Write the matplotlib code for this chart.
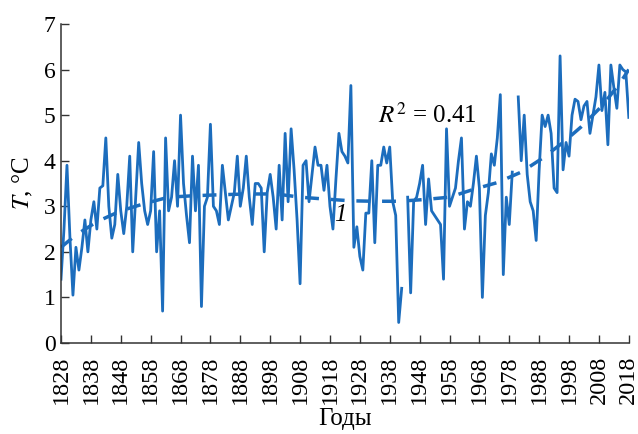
import numpy as np
import matplotlib
matplotlib.use("Agg")
from matplotlib import pyplot as plt

# annual mean temperature, 1828-2018 (NaN = no data)
years = np.arange(1828, 2019)
temp = [
    1.4, 2.5, 3.9, 2.3, 1.05, 2.1, 1.6, 2.1, 2.7, 2.0,          # 1828-1837
    2.7, 3.1, 2.5, 3.4, 3.45, 4.5, 3.0, 2.3, 2.6, 3.7,          # 1838-1847
    2.9, 2.4, 3.0, 4.1, 2.0, 3.2, 4.4, 3.5, 2.9, 2.6,           # 1848-1857
    2.9, 4.2, 2.0, 2.9, 0.7, 4.5, 2.9, 3.2, 4.0, 3.0,           # 1858-1867
    5.0, 3.5, 2.8, 2.2, 4.1, 2.9, 3.9, 0.8, 3.0, 3.2,           # 1868-1877
    4.8, 3.0, 2.9, 2.6, 3.9, 3.3, 2.7, 3.0, 3.3, 4.1,           # 1878-1887
    3.0, 3.4, 4.1, 3.2, 2.6, 3.5, 3.5, 3.4, 2.0, 3.3,           # 1888-1897
    3.7, 3.2, 2.5, 3.9, 2.7, 4.6, 3.1, 4.7, 3.8, 2.7,           # 1898-1907
    1.3, 3.9, 4.0, 3.1, 3.7, 4.3, 3.9, 3.9, 3.35, 3.9,          # 1908-1917
    3.0, 2.5, 3.6, 4.6, 4.2, 4.1, 3.95, 5.65, 2.1, 2.55,        # 1918-1927
    1.9, 1.6, 2.85, 2.85, 4.0, 2.2, 3.9, 3.9, 4.3, 3.95,        # 1928-1937
    4.3, 3.1, 2.8, 0.45, 1.2, np.nan, 3.2, 1.1, 3.1, 3.2,       # 1938-1947
    3.5, 3.9, 2.6, 3.6, 2.9, 2.8, 2.7, 2.6, 1.4, 4.7,           # 1948-1957
    3.0, 3.2, 3.4, 4.0, 4.5, 2.5, 3.1, 3.0, 3.5, 4.1,           # 1958-1967
    3.4, 1.0, 2.8, 3.3, 4.15, 3.9, 4.5, 5.45, 1.5, 3.2,         # 1968-1977
    2.6, 3.75, np.nan, 5.4, 4.0, 5.0, 3.7, 3.1, 2.9, 2.25,      # 1978-1987
    3.8, 5.0, 4.75, 5.0, 4.6, 3.4, 3.3, 6.3, 3.8, 4.4,          # 1988-1997
    4.1, 5.0, 5.35, 5.3, 4.9, 5.2, 5.3, 4.6, 5.0, 5.4,          # 1998-2007
    6.1, 5.1, 5.5, 4.35, 6.1, 5.6, 5.15, 6.1, 6.0, 5.95,        # 2008-2017
    4.95,                                                        # 2018
]

# trend curve 1
trend_years = [1828, 1833, 1840, 1848, 1856, 1864, 1872, 1880, 1890, 1900,
               1908, 1916, 1925, 1933, 1941, 1950, 1958, 1966, 1974, 1982,
               1989, 1996, 2002, 2009, 2015, 2018]
trend_vals = [2.1, 2.37, 2.66, 2.9, 3.06, 3.2, 3.23, 3.25, 3.27, 3.27,
              3.2, 3.16, 3.12, 3.11, 3.11, 3.15, 3.2, 3.37, 3.52, 3.75,
              4.05, 4.4, 4.74, 5.2, 5.7, 6.0]

xticks = list(range(1828, 2019, 10))

plt.rcParams['font.family'] = ['Liberation Serif', 'DejaVu Serif']
plt.rcParams['mathtext.fontset'] = 'stix'

blue = '#1c6dbd'

fig = plt.figure(figsize=(6.38, 4.34), dpi=100)
ax = fig.add_axes([0.0956, 0.2097, 0.890, 0.735])

ax.plot(years, temp, color=blue, lw=2.0, solid_joinstyle='round')
ax.plot(trend_years, trend_vals, color=blue, lw=2.5, linestyle=(0, (4.0, 3.4)))

ax.set_xlim(1828, 2018)
ax.set_ylim(0, 7)
ax.set_xticks(xticks)
ax.set_xticklabels([str(t) for t in xticks], rotation=90)
ax.set_yticks(range(0, 8))

for s in ['top', 'right']:
    ax.spines[s].set_visible(False)
for s in ['left', 'bottom']:
    ax.spines[s].set_linewidth(1.1)
    ax.spines[s].set_color('#333333')

ax.tick_params(direction='in', length=6, width=1.0, color='#333333',
               labelsize=16, pad=4)
ax.tick_params(axis='x', labelsize=17.5, pad=9)
ax.tick_params(axis='y', labelsize=17)

ax.set_xlabel('Годы', fontsize=18, labelpad=3)
ax.set_ylabel(r'$T$, °C', fontsize=18, labelpad=6)

ax.text(1934, 5.0, r'$R^2$ = 0.41', fontsize=18, ha='left', va='center')
ax.text(1921.5, 2.8, '1', fontsize=18, style='italic', ha='center', va='center')

fig.savefig('out.png', dpi=100)
